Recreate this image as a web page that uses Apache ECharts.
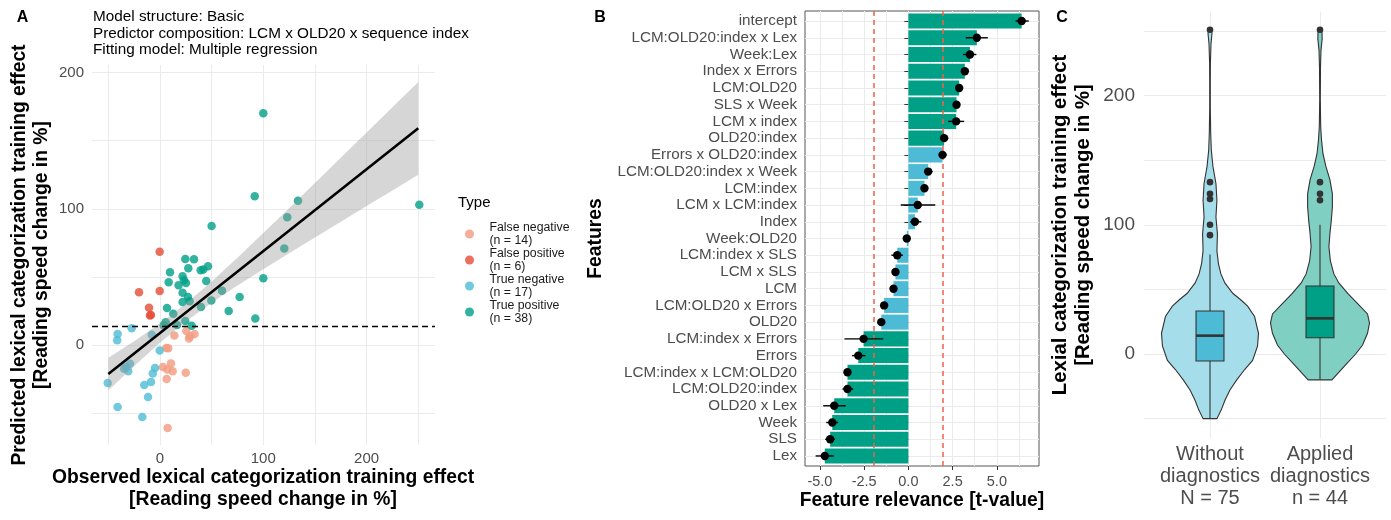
<!DOCTYPE html>
<html><head><meta charset="utf-8">
<script src="https://cdn.jsdelivr.net/npm/echarts@6/dist/echarts.min.js"></script>
<style>html,body{margin:0;padding:0;background:#fff}#c{width:1391px;height:520px}</style>
</head><body><div id="c"></div>
<script>
// ---------- Panel A data ----------
const typeNames = ['False negative', 'False positive', 'True negative', 'True positive'];
const typeCounts = [14, 6, 17, 38];
const fnX = [13.9, 25.5, 33.5, 28.1, 29.0, 6.1, 8.0, 10.6, 2.9, 7.1, 12.3, 24.9, 6.5, 7.4];
const fnY = [7.3, 10.5, 8.4, 5.1, 6.6, -1.9, -2.2, -13.2, -15.8, -17.6, -19.0, -20.0, -24.6, -60.6];
const fpX = [-0.3, -20.3, -0.3, -10.6, -9.7, -8.7];
const fpY = [68.5, 38.9, 39.9, 27.6, 21.8, 22.3];
const tnX = [-27.4, -41.0, -41.4, -8.0, -0.3, -29.0, -32.9, -30.7, -34.8, -4.8, -7.0, -50.6, -8.7, -15.2, -11.6, -41.0, -17.1];
const tnY = [12.5, 8.4, 3.7, 7.8, -3.7, -13.4, -15.9, -19.0, -17.1, -16.6, -20.7, -27.6, -26.8, -29.0, -37.8, -45.2, -52.5];
const tpX = [100, 91.7, 133.6, 123.2, 251, 50, 120.3, 100, 24.5, 32.9, 9.7, 27.4, 39.4, 41.9, 46.5, 8.4, 21.9, 23.2, 25.2, 44.8, 21.9, 60, 77.1, 27.1, 28.7, 21.9, 49.7, 6.8, 39.7, 12.9, 66.5, 92.3, 24.5, 5.5, 3.6, 16.5, 30.7, 18.0];
const tpY = [170, 109.2, 106, 93.8, 103, 87.5, 70.9, 49.1, 63.3, 63, 53.5, 56.5, 55, 55.5, 57.9, 46.2, 50.6, 47.7, 45.7, 47.2, 38.6, 40.1, 35.5, 35.5, 32.3, 31.8, 32.8, 27.4, 28.1, 23.2, 25.2, 19.6, 17.9, 16.9, 14.7, 15, 14.4, 44.0];
const fitX = [-50, 250];
const fitY = [-21, 159];
const bandX = [-50, -25, 0, 25, 50, 75, 100, 125, 150, 175, 200, 225, 250];
const bandLo = [-33, -15.1, 2, 17.5, 31.3, 43.8, 55.7, 67.5, 79.1, 90.6, 102.1, 113.5, 125];
const bandHi = [-9, 3.1, 16, 30.5, 46.7, 64.2, 82.3, 100.5, 118.9, 137.4, 155.9, 174.5, 193];
const threshold = 14;
const aTicksX = [0, 100, 200];
const aGridX = [-50, 0, 50, 100, 150, 200, 250];
const aTicksY = [0, 100, 200];
const aGridY = [-50, 0, 50, 100, 150, 200];

// ---------- Panel B data ----------
const features = ['intercept', 'LCM:OLD20:index x Lex', 'Week:Lex', 'Index x Errors', 'LCM:OLD20', 'SLS x Week',
  'LCM x index', 'OLD20:index', 'Errors x OLD20:index', 'LCM:OLD20:index x Week', 'LCM:index', 'LCM x LCM:index',
  'Index', 'Week:OLD20', 'LCM:index x SLS', 'LCM x SLS', 'LCM', 'LCM:OLD20 x Errors', 'OLD20', 'LCM:index x Errors',
  'Errors', 'LCM:index x LCM:OLD20', 'LCM:OLD20:index', 'OLD20 x Lex', 'Week', 'SLS', 'Lex'];
const tValue = [6.4, 3.87, 3.48, 3.19, 2.87, 2.72, 2.7, 2.02, 1.93, 1.12, 0.91, 0.53, 0.37, -0.09, -0.63, -0.73, -0.84,
  -1.37, -1.53, -2.53, -2.83, -3.44, -3.44, -4.19, -4.30, -4.42, -4.72];
const tLow = [6.05, 3.24, 3.09, 3.0, 2.68, 2.53, 2.25, 1.82, 1.72, 0.9, 0.75, -0.43, 0.10, -0.25, -0.96, -0.88, -1.03,
  -1.56, -1.68, -3.61, -3.18, -3.61, -3.72, -4.81, -4.64, -4.70, -5.24];
const tHigh = [6.8, 4.49, 3.84, 3.39, 3.06, 2.9, 3.15, 2.25, 2.16, 1.37, 1.05, 1.52, 0.73, 0.06, -0.31, -0.56, -0.66,
  -1.18, -1.38, -1.42, -2.42, -3.25, -3.12, -3.54, -3.97, -4.14, -4.21];
const critT = 1.96;
const bTicksX = [-5, -2.5, 0, 2.5, 5];
const bGridX = [-5, -3.75, -2.5, -1.25, 0, 1.25, 2.5, 3.75, 5, 6.25];

// ---------- Panel C data ----------
const groupLabels = ['Without\ndiagnostics\nN = 75', 'Applied\ndiagnostics\nn = 44'];
const vioY1 = [-50, -43, -36, -28, -20, -12, -5, 6, 16, 29, 37, 42, 47, 55, 62, 70, 80, 93, 106, 119, 132, 145, 158, 171, 190, 210, 225, 240, 248, 251];
const vioW1 = [0.14, 0.23, 0.30, 0.40, 0.54, 0.70, 0.86, 0.96, 0.98, 0.90, 0.76, 0.62, 0.46, 0.30, 0.22, 0.17, 0.14, 0.15, 0.12, 0.14, 0.12, 0.06, 0.026, 0.014, 0.006, 0.006, 0.008, 0.02, 0.04, 0.03];
const vioY2 = [-20, -10, 0, 7, 16, 24, 31, 39, 47, 55, 62, 72, 83, 93, 104, 114, 124, 135, 145, 155, 166, 176, 197, 222, 235, 244, 251];
const vioW2 = [0.24, 0.48, 0.72, 0.86, 0.96, 1.0, 0.96, 0.76, 0.56, 0.38, 0.28, 0.21, 0.18, 0.20, 0.23, 0.25, 0.25, 0.20, 0.12, 0.06, 0.03, 0.014, 0.006, 0.01, 0.02, 0.044, 0.04];
const boxMin = [-50, -19.6];
const boxQ1 = [-5.4, 12.6];
const boxMed = [14.2, 27.6];
const boxQ3 = [33.3, 52.6];
const boxMax = [77.1, 100];
const outliers1 = [251, 133, 124, 120, 100, 92];
const outliers2 = [251, 133, 124, 119];
const cTicksY = [0, 100, 200];
const cGridY = [-50, 0, 50, 100, 150, 200, 250];

// ---------- styles ----------
const FONT = '"Liberation Sans", Arial, Helvetica, sans-serif';
const GRIDC = '#EBEBEB', TICKC = '#4D4D4D';
const typeColors = ['#F39B7F', '#E64B35', '#4DBBD5', '#00A087'];
const GREEN = '#00A087', BLUE = '#4DBBD5';
const vioFill = ['#A6DDEA', '#80CFC3'];
const boxFill = [BLUE, GREEN];

const zip = (a, b) => a.map((v, i) => [v, b[i]]);
const violins = [{y: vioY1, w: vioW1, out: outliers1}, {y: vioY2, w: vioW2, out: outliers2}];

function txt(text, x, y, size, weight, align, lh, rot) {
  const el = {
    type: 'text', x: x, y: y,
    style: {text: text, fontSize: size, fontWeight: weight, fontFamily: FONT, fill: '#000',
      align: align, textAlign: align, verticalAlign: 'middle', textVerticalAlign: 'middle', lineHeight: lh || size + 3}
  };
  if (rot) el.rotation = Math.PI / 2;
  return el;
}

const chart = echarts.init(document.getElementById('c'), null, {renderer: 'canvas', width: 1391, height: 520});

const axisLbl = (size, margin, extra) => Object.assign({fontSize: size, color: TICKC, fontFamily: FONT, margin: margin}, extra || {});
const split = {show: true, lineStyle: {color: GRIDC, width: 1}};

const option = {
  animation: false,
  backgroundColor: '#fff',
  grid: [
    {left: 92, top: 65, width: 343, height: 380},
    {left: 805, top: 11, width: 234, height: 455, show: true, borderColor: '#555', borderWidth: 1, backgroundColor: 'transparent'},
    {left: 1144, top: 11.6, width: 242, height: 426.4}
  ],
  xAxis: [
    {gridIndex: 0, type: 'value', min: -65.8, max: 266.2, position: 'bottom',
      axisLine: {show: false}, axisTick: {show: false, customValues: aGridX},
      axisLabel: axisLbl(15, 6, {customValues: aTicksX}), splitLine: split},
    {gridIndex: 1, type: 'value', min: -5.84, max: 7.38, position: 'bottom',
      axisLine: {show: false}, axisTick: {show: false, customValues: bGridX},
      axisLabel: axisLbl(14.5, 8, {customValues: bTicksX, formatter: v => v.toFixed(1)}), splitLine: split},
    {gridIndex: 2, type: 'value', min: 0.4, max: 2.6, position: 'bottom',
      axisLine: {show: false}, axisTick: {show: false, customValues: [1, 2]},
      axisLabel: axisLbl(20, 5, {customValues: [1, 2], lineHeight: 22, formatter: v => groupLabels[Math.round(v) - 1]}),
      splitLine: split},
    {gridIndex: 1, type: 'value', min: -5.84, max: 7.38, position: 'bottom',
      axisLine: {show: false}, axisTick: {show: true, length: 4, customValues: bTicksX, lineStyle: {color: '#333'}},
      axisLabel: {show: false}, splitLine: {show: false}}
  ],
  yAxis: [
    {gridIndex: 0, type: 'value', min: -73, max: 205.4,
      axisLine: {show: false}, axisTick: {show: false, customValues: aGridY},
      axisLabel: axisLbl(15, 8, {customValues: aTicksY}), splitLine: split},
    {gridIndex: 1, type: 'value', inverse: true, min: -0.6, max: features.length - 0.4,
      axisLine: {show: false}, axisTick: {show: true, length: 4, customValues: features.map((f, i) => i), lineStyle: {color: '#333'}},
      axisLabel: axisLbl(15.2, 8, {customValues: features.map((f, i) => i), formatter: v => features[Math.round(v)]}),
      splitLine: split},
    {gridIndex: 2, type: 'value', min: -65, max: 265,
      axisLine: {show: false}, axisTick: {show: false, customValues: cGridY},
      axisLabel: axisLbl(19, 9, {customValues: cTicksY}), splitLine: split}
  ],
  legend: {
    data: typeNames, orient: 'vertical', left: 460, top: 216, itemWidth: 20, itemHeight: 9, itemGap: 0,
    icon: 'circle', selectedMode: false,
    textStyle: {fontSize: 12.3, lineHeight: 13, color: '#1a1a1a', fontFamily: FONT, padding: [0, 0, 0, 5]},
    formatter: name => name + '\n(n = ' + typeCounts[typeNames.indexOf(name)] + ')'
  },
  graphic: {elements: [
    txt('A', 22.5, 18, 16, 'bold', 'center'),
    txt('B', 600, 18, 16, 'bold', 'center'),
    txt('C', 1062, 17.5, 16, 'bold', 'center'),
    txt('Model structure: Basic', 93, 17, 15.3, 'normal', 'left'),
    txt('Predictor composition: LCM x OLD20 x sequence index', 93, 33.5, 15.3, 'normal', 'left'),
    txt('Fitting model: Multiple regression', 93, 50, 15.3, 'normal', 'left'),
    txt('Type', 458, 203, 15, 'normal', 'left'),
    txt('Observed lexical categorization training effect\n[Reading speed change in %]', 263, 489, 19.3, 'bold', 'center', 22),
    txt('Predicted lexical categorization training effect\n[Reading speed change in %]', 31, 255, 19.3, 'bold', 'center', 22, true),
    txt('Features', 595.5, 238.5, 19.3, 'bold', 'center', 22, true),
    txt('Feature relevance [t-value]', 922, 501, 19.3, 'bold', 'center'),
    txt('Lexial categorization training effect\n[Reading speed change in %]', 1071.5, 225, 20.3, 'bold', 'center', 23, true)
  ]},
  series: [
    // Panel A scatter
    {name: typeNames[0], type: 'scatter', xAxisIndex: 0, yAxisIndex: 0, data: zip(fnX, fnY), symbolSize: 8.5, itemStyle: {color: typeColors[0], opacity: 0.8}},
    {name: typeNames[1], type: 'scatter', xAxisIndex: 0, yAxisIndex: 0, data: zip(fpX, fpY), symbolSize: 8.5, itemStyle: {color: typeColors[1], opacity: 0.8}},
    {name: typeNames[2], type: 'scatter', xAxisIndex: 0, yAxisIndex: 0, data: zip(tnX, tnY), symbolSize: 8.5, itemStyle: {color: typeColors[2], opacity: 0.8}},
    {name: typeNames[3], type: 'scatter', xAxisIndex: 0, yAxisIndex: 0, data: zip(tpX, tpY), symbolSize: 8.5, itemStyle: {color: typeColors[3], opacity: 0.8}},
    // confidence band
    {type: 'custom', xAxisIndex: 0, yAxisIndex: 0, data: [[bandX[0], bandLo[0]]], silent: true, z: 3,
      renderItem: (params, api) => {
        const pts = [];
        bandX.forEach((x, i) => pts.push(api.coord([x, bandHi[i]])));
        for (let i = bandX.length - 1; i >= 0; i--) pts.push(api.coord([bandX[i], bandLo[i]]));
        return {type: 'polygon', shape: {points: pts}, style: {fill: 'rgba(153,153,153,0.4)'}};
      }},
    // regression line + threshold
    {type: 'line', xAxisIndex: 0, yAxisIndex: 0, data: zip(fitX, fitY), symbol: 'none', z: 4, silent: true,
      lineStyle: {color: '#000', width: 2.6},
      markLine: {silent: true, symbol: 'none', label: {show: false}, animation: false,
        lineStyle: {color: '#000', width: 1.3, type: [6, 4]}, data: [{yAxis: threshold}]}},
    // Panel B bars
    {type: 'custom', xAxisIndex: 1, yAxisIndex: 1, silent: true, z: 2,
      data: features.map((f, i) => [tValue[i], i]),
      encode: {x: 0, y: 1},
      renderItem: (params, api) => {
        const t = api.value(0), i = api.value(1);
        const p0 = api.coord([0, i]), p1 = api.coord([t, i]);
        const h = Math.abs(api.size([0, 1])[1]) * 0.9;
        return {type: 'rect', shape: {x: Math.min(p0[0], p1[0]), y: p0[1] - h / 2, width: Math.abs(p1[0] - p0[0]), height: h},
          style: {fill: Math.abs(t) >= critT ? GREEN : BLUE}};
      },
      markLine: {silent: true, symbol: 'none', label: {show: false}, animation: false, z: 5,
        lineStyle: {color: '#F2604A', width: 1.5, type: [5, 4]}, data: [{xAxis: -critT}, {xAxis: critT}]}},
    // Panel B error bars + points
    {type: 'custom', xAxisIndex: 1, yAxisIndex: 1, silent: true, z: 6,
      data: features.map((f, i) => [tValue[i], i, tLow[i], tHigh[i]]),
      encode: {x: [0, 2, 3], y: 1},
      renderItem: (params, api) => {
        const t = api.value(0), i = api.value(1), lo = api.value(2), hi = api.value(3);
        const a = api.coord([lo, i]), b = api.coord([hi, i]), c = api.coord([t, i]);
        return {type: 'group', children: [
          {type: 'line', shape: {x1: a[0], y1: a[1], x2: b[0], y2: b[1]}, style: {stroke: '#000', lineWidth: 1.4}},
          {type: 'circle', shape: {cx: c[0], cy: c[1], r: 4.2}, style: {fill: '#000'}}
        ]};
      }},
    // Panel C violins + boxplots
    {type: 'custom', xAxisIndex: 2, yAxisIndex: 2, silent: true, z: 3,
      data: [[1, boxMed[0]], [2, boxMed[1]]],
      encode: {x: 0, y: 1},
      renderItem: (params, api) => {
        const g = params.dataIndex, cx = g + 1, V = violins[g];
        const unit = api.size([1, 0])[0];
        const half = 0.45 * unit, bw = 0.127 * unit;
        const left = [], right = [];
        V.y.forEach((y, i) => {
          const c = api.coord([cx, y]);
          left.push([c[0] - V.w[i] * half, c[1]]);
          right.push([c[0] + V.w[i] * half, c[1]]);
        });
        const pts = left.concat(right.reverse());
        const lo = api.coord([cx, boxMin[g]]), hi = api.coord([cx, boxMax[g]]);
        const q1 = api.coord([cx, boxQ1[g]]), q3 = api.coord([cx, boxQ3[g]]), md = api.coord([cx, boxMed[g]]);
        const ch = [
          {type: 'polygon', shape: {points: pts}, style: {fill: vioFill[g], stroke: '#333', lineWidth: 1.1}},
          {type: 'line', shape: {x1: lo[0], y1: lo[1], x2: hi[0], y2: hi[1]}, style: {stroke: '#333', lineWidth: 1.1}},
          {type: 'rect', shape: {x: q3[0] - bw, y: q3[1], width: 2 * bw, height: q1[1] - q3[1]}, style: {fill: boxFill[g], stroke: '#333', lineWidth: 1.1}},
          {type: 'line', shape: {x1: md[0] - bw, y1: md[1], x2: md[0] + bw, y2: md[1]}, style: {stroke: '#333', lineWidth: 2.6}}
        ];
        V.out.forEach(o => {
          const p = api.coord([cx, o]);
          ch.push({type: 'circle', shape: {cx: p[0], cy: p[1], r: 3.3}, style: {fill: '#333'}});
        });
        return {type: 'group', children: ch};
      }}
  ]
};
chart.setOption(option);
</script>
</body></html>
